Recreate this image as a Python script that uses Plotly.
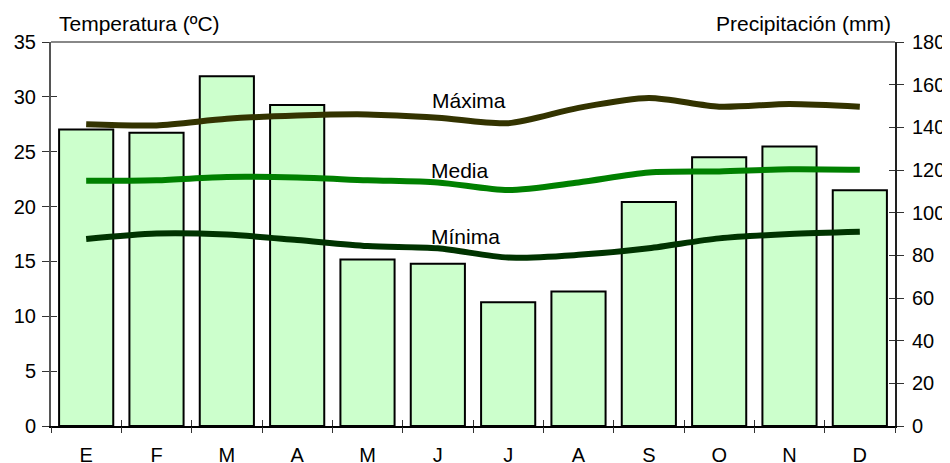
import plotly.graph_objects as go

months = ["E", "F", "M", "A", "M", "J", "J", "A", "S", "O", "N", "D"]
precip = [139, 137.5, 164, 150.5, 78, 76, 58, 63, 105, 126, 131, 110.5]
t_max = [27.5, 27.4, 28.0, 28.3, 28.4, 28.1, 27.6, 29.0, 29.9, 29.1, 29.35, 29.1]
t_med = [22.35, 22.4, 22.7, 22.65, 22.4, 22.2, 21.5, 22.2, 23.1, 23.2, 23.4, 23.35]
t_min = [17.05, 17.55, 17.45, 16.95, 16.4, 16.2, 15.35, 15.6, 16.2, 17.1, 17.5, 17.7]

label_text = ["Máxima", "Media", "Mínima"]
label_pos = [(5.45, 29.7), (5.31, 23.3), (5.4, 17.3)]

idx = list(range(len(months)))
bounds = [i - 0.5 for i in range(len(months) + 1)]
FONT = "Liberation Sans, Arial, sans-serif"

fig = go.Figure()
fig.add_trace(go.Bar(x=idx, y=precip, xaxis="x", yaxis="y",
                     marker=dict(color="#CCFFCC", line=dict(color="black", width=2)),
                     width=0.77, showlegend=False))
for vals, col in [(t_max, "#333300"), (t_med, "#008000"), (t_min, "#003300")]:
    fig.add_trace(go.Scatter(x=idx, y=vals, xaxis="x", yaxis="y2", mode="lines",
                             line=dict(color=col, width=6, shape="spline", smoothing=0.8),
                             showlegend=False))
# empty traces to activate tick-only axes (cross ticks)
fig.add_trace(go.Scatter(x=[], y=[], xaxis="x2", yaxis="y3", showlegend=False))
fig.add_trace(go.Scatter(x=[], y=[], xaxis="x3", yaxis="y4", showlegend=False))

tickfont = dict(family=FONT, size=20, color="black")
rng_x = [-0.5, len(months) - 0.5]
common = dict(showgrid=False, zeroline=False, automargin=False)

fig.update_layout(
    width=942, height=455,
    margin=dict(l=43, r=55, t=34, b=37),
    paper_bgcolor="white", plot_bgcolor="white",
    font=dict(family=FONT, size=20, color="black"),
    xaxis=dict(range=rng_x, tickmode="array", tickvals=idx, ticktext=months,
               ticks="", showline=True, linecolor="black", linewidth=2,
               tickfont=tickfont, ticklabelstandoff=10, **common),
    xaxis2=dict(overlaying="x", side="bottom", range=rng_x, tickmode="array",
                tickvals=bounds, ticks="outside", ticklen=6, tickwidth=1,
                tickcolor="#333", showticklabels=False, showline=False, **common),
    xaxis3=dict(overlaying="x", side="bottom", range=rng_x, tickmode="array",
                tickvals=bounds, ticks="inside", ticklen=6, tickwidth=1,
                tickcolor="#333", showticklabels=False, showline=False, **common),
    yaxis=dict(side="right", range=[0, 180], dtick=20, ticks="outside", ticklen=7,
               tickwidth=1, tickcolor="#333", showline=True, linecolor="#222",
               linewidth=2, tickfont=tickfont, ticklabelstandoff=4, **common),
    yaxis2=dict(overlaying="y", side="left", range=[0, 35], dtick=5, ticks="outside",
                ticklen=7, tickwidth=1, tickcolor="#333", showline=True,
                linecolor="#555", linewidth=2, tickfont=tickfont,
                ticklabelstandoff=2, **common),
    yaxis3=dict(overlaying="y", side="left", range=[0, 35], dtick=5, ticks="inside",
                ticklen=6, tickwidth=1, tickcolor="#333", showticklabels=False,
                showline=False, **common),
    yaxis4=dict(overlaying="y", side="right", range=[0, 180], dtick=20, ticks="inside",
                ticklen=6, tickwidth=1, tickcolor="#333", showticklabels=False,
                showline=False, **common),
    shapes=[dict(type="line", xref="paper", yref="paper", x0=0, x1=1, y0=1, y1=1,
                 line=dict(color="#888", width=2))],
)

fig.add_annotation(text="Temperatura (ºC)", xref="paper", yref="paper", x=0.007, y=1.047,
                   xanchor="left", yanchor="middle", showarrow=False,
                   font=dict(family=FONT, size=21, color="black"))
fig.add_annotation(text="Precipitación (mm)", xref="paper", yref="paper", x=0.998, y=1.047,
                   xanchor="right", yanchor="middle", showarrow=False,
                   font=dict(family=FONT, size=21, color="black"))
for t, (lx, ly) in zip(label_text, label_pos):
    fig.add_annotation(text=t, x=lx, y=ly, xref="x", yref="y2", showarrow=False,
                       xanchor="center", yanchor="middle",
                       font=dict(family=FONT, size=21, color="black"))

fig.write_html("out.html")
